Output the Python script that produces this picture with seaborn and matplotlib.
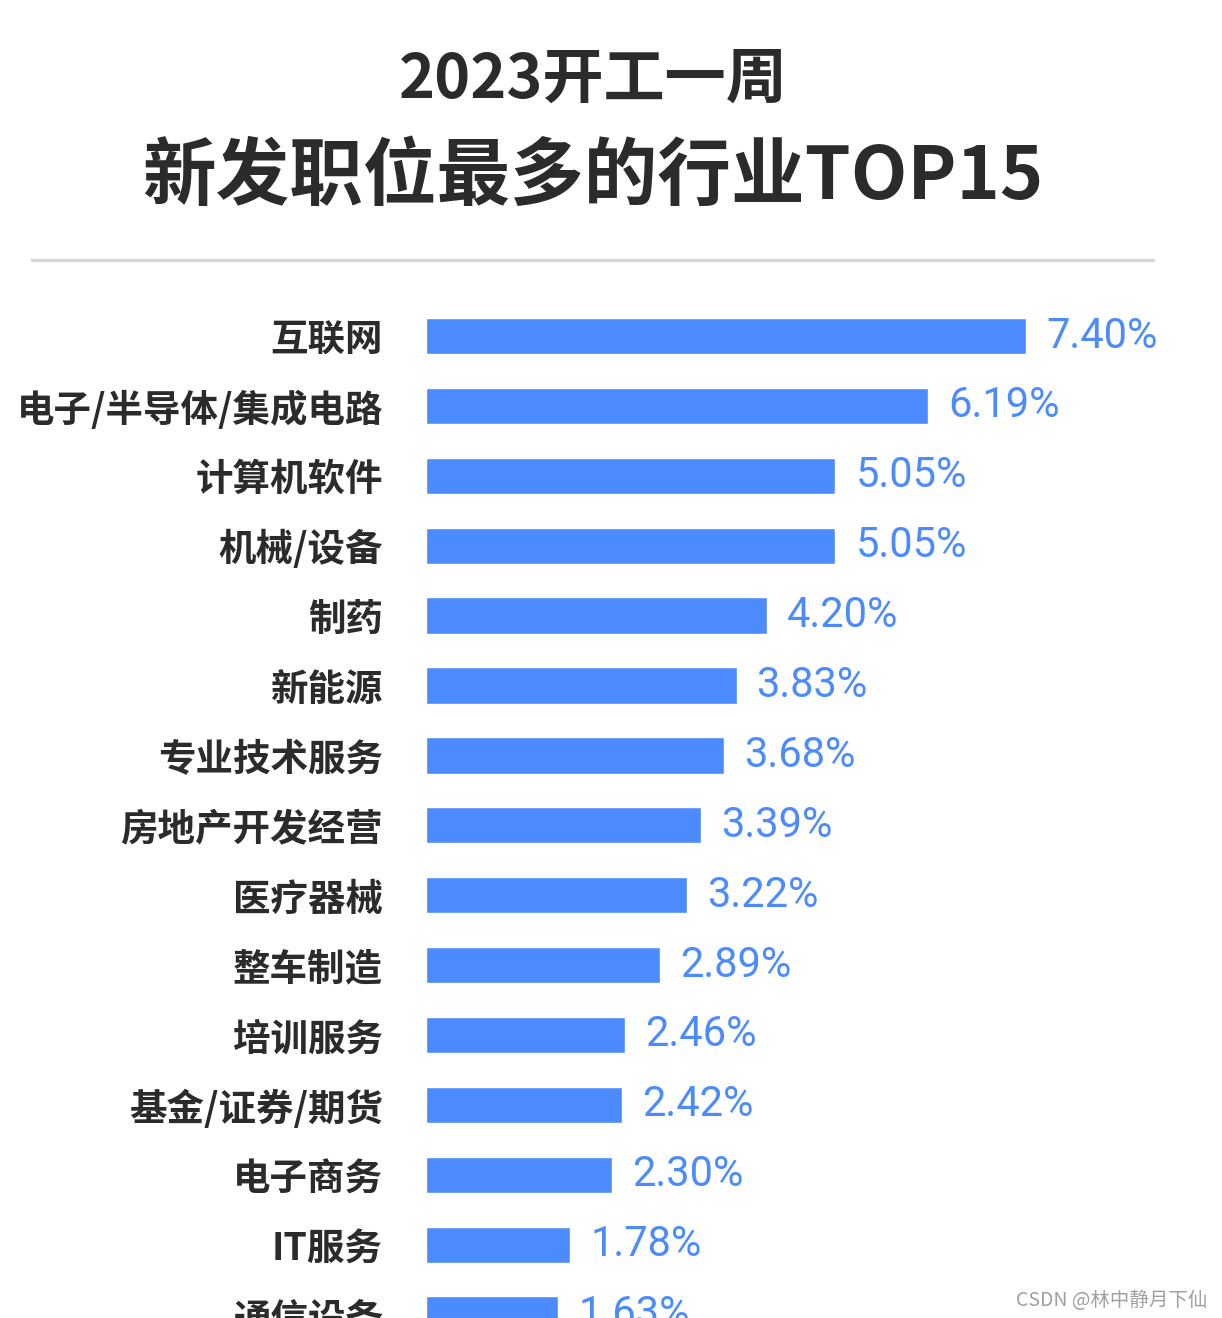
import matplotlib
matplotlib.use("Agg")
import matplotlib.pyplot as plt
import seaborn as sns
import pandas as pd

industries = ["互联网", "电子/半导体/集成电路", "计算机软件", "机械/设备", "制药", "新能源",
              "专业技术服务", "房地产开发经营", "医疗器械", "整车制造", "培训服务",
              "基金/证券/期货", "电子商务", "IT服务", "通信设备"]
shares = [7.40, 6.19, 5.05, 5.05, 4.20, 3.83, 3.68, 3.39, 3.22, 2.89, 2.46, 2.42, 2.30, 1.78, 1.63]
value_labels = ["7.40%", "6.19%", "5.05%", "5.05%", "4.20%", "3.83%", "3.68%", "3.39%",
                "3.22%", "2.89%", "2.46%", "2.42%", "2.30%", "1.78%", "1.63%"]
title_line1 = "2023开工一周"
title_line2 = "新发职位最多的行业TOP15"
watermark = "CSDN @林中静月下仙"

sns.set_theme(style="white")
plt.rcParams['font.family'] = ['Noto Sans CJK SC', 'DejaVu Sans']

W, H = 1222, 1318
fig = plt.figure(figsize=(W / 100, H / 100), dpi=100)
fig.patch.set_facecolor("white")

# axes geometry in pixels
left_px, top_px = 426, 290
ax = fig.add_axes([left_px / W, 0, (W - left_px) / W, (H - top_px) / H])

df = pd.DataFrame({"industry": industries, "share": shares})
bar_color = "#4c8bfd"
sns.barplot(data=df, x="share", y="industry", color=bar_color, width=0.52,
            saturation=1, ax=ax, orient="h")

px_per_unit = 600 / 7.40
ax.set_xlim(0, (W - left_px) / px_per_unit)
row_px = 69.9
ax.set_ylim((H - 336) / row_px, -(336 - top_px) / row_px)

for i, (v, lab) in enumerate(zip(shares, value_labels)):
    ax.text(v + 20 / px_per_unit, i, lab, va="center", ha="left",
            fontsize=30, color="#4c8bfd", family=["Roboto", "DejaVu Sans"])

ax.set_xlabel("")
ax.set_ylabel("")
ax.set_xticks([])
ax.tick_params(axis="y", length=0, pad=31)
for t in ax.get_yticklabels():
    t.set_fontsize(27)
    t.set_fontweight("bold")
    t.set_color("#2b2b2b")
for s in ax.spines.values():
    s.set_visible(False)
ax.set_facecolor("none")

fig.text(593 / W, 1 - 80 / H, title_line1, ha="center", va="center",
         fontsize=44, fontweight="bold", color="#2b2b2b")
fig.text(593 / W, 1 - 178 / H, title_line2, ha="center", va="center",
         fontsize=53, fontweight="bold", color="#2b2b2b")

fig.add_artist(plt.Line2D([32 / W, 1153 / W], [1 - 260 / H, 1 - 260 / H],
                          color="#d6d6d6", linewidth=2.5, transform=fig.transFigure))

fig.text(1207 / W, 1 - 1300 / H, watermark, ha="right", va="center",
         fontsize=14, color="#a0a0a0")

fig.savefig("out.png", dpi=100, facecolor="white")
